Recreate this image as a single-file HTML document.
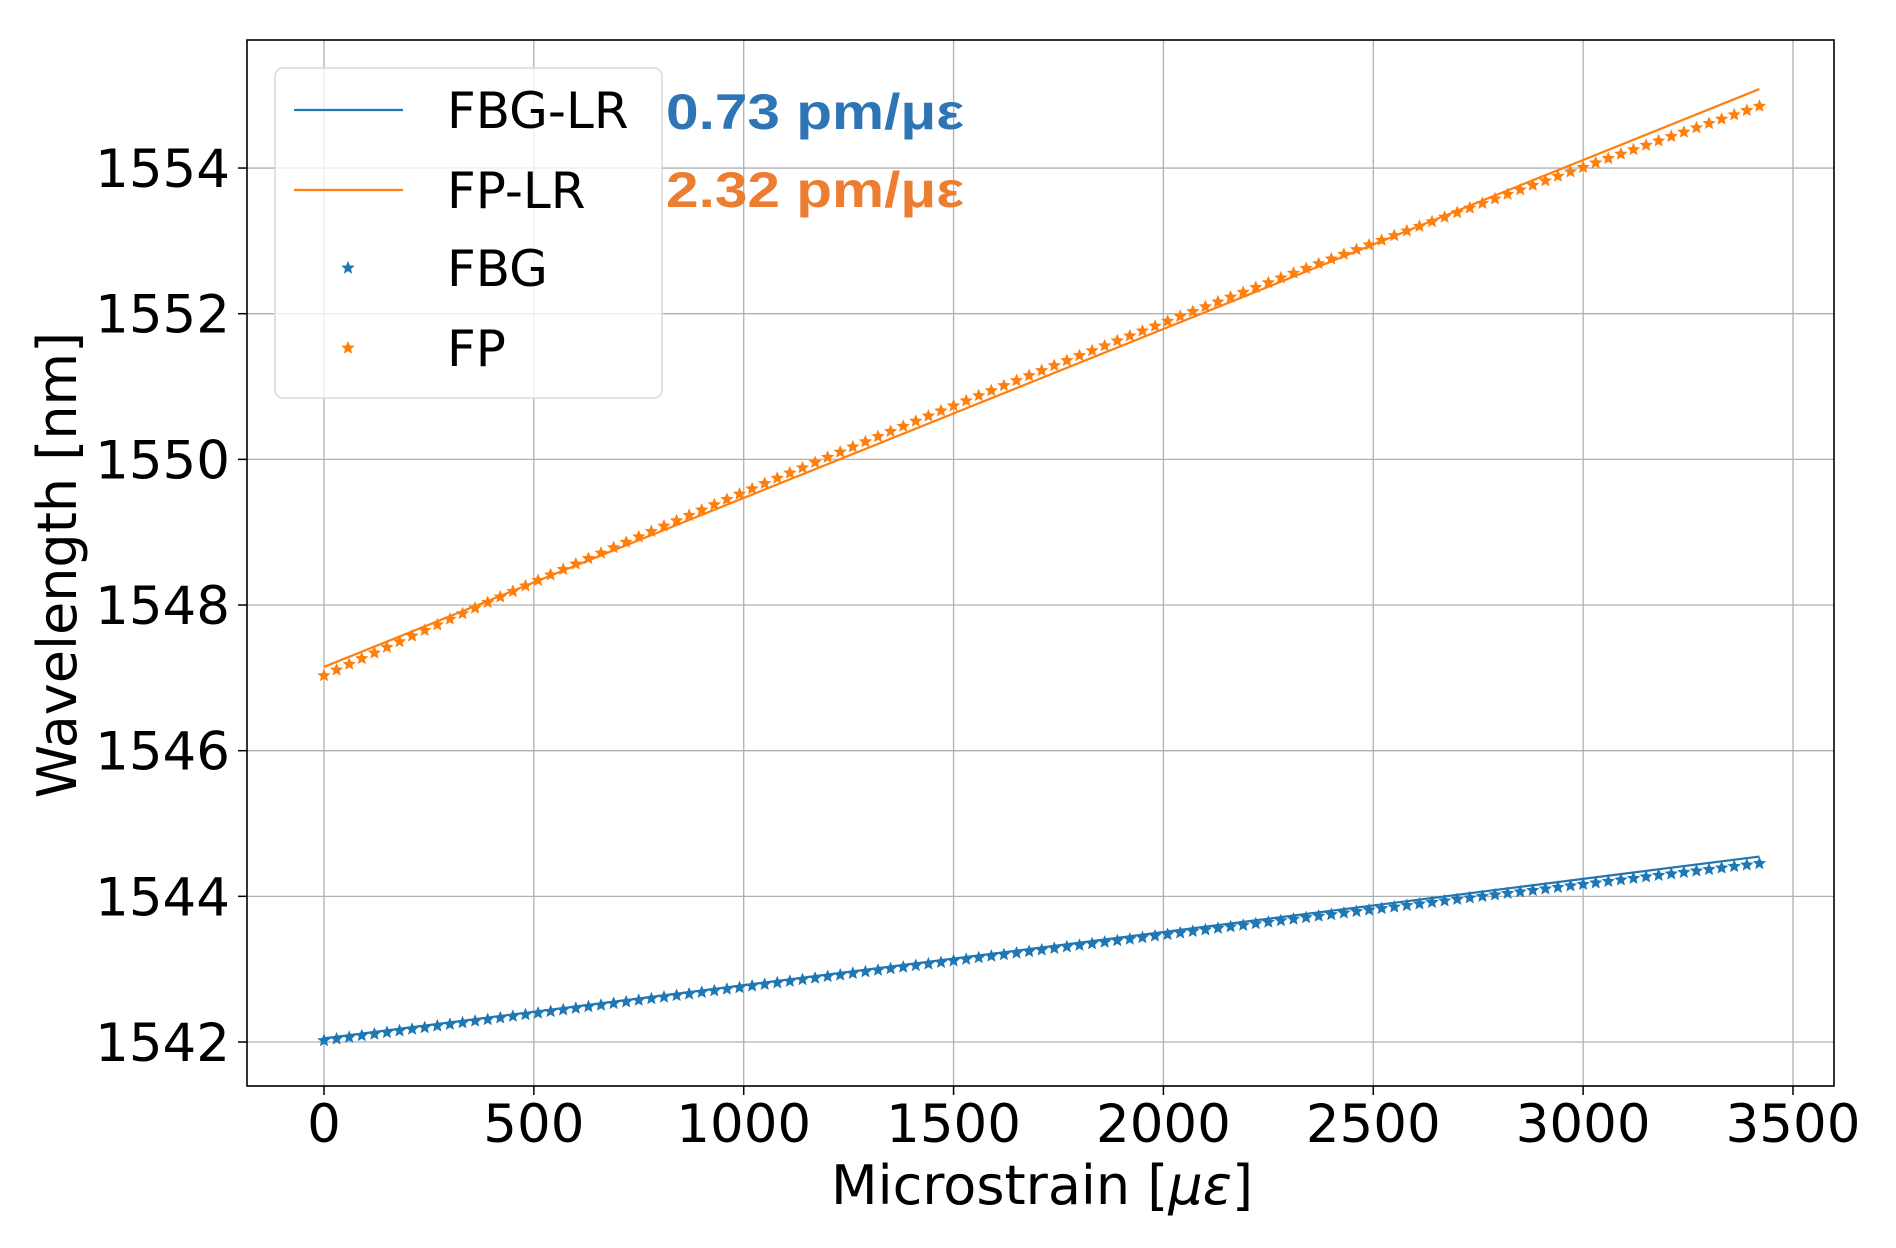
<!DOCTYPE html>
<html><head><meta charset="utf-8"><style>
html,body{margin:0;padding:0;background:#fff;}
svg{display:block;}
text{font-family:"DejaVu Sans","Liberation Sans",sans-serif;}
</style></head><body>
<svg id="s" width="1896" height="1248" xmlns="http://www.w3.org/2000/svg">
<rect x="0" y="0" width="1896" height="1248" fill="#fff"/>
<g id="grid" stroke="#b0b0b0" stroke-width="1.3"></g>
<g id="data"></g>
<rect x="247" y="40" width="1587" height="1046" fill="none" stroke="#000" stroke-width="1.6"/>
<g id="ticks" font-size="53" fill="#000"></g>
<text x="1042" y="1204" font-size="54" text-anchor="middle">Microstrain [<tspan font-style="italic">με</tspan>]</text>
<text transform="translate(76,565) rotate(-90)" font-size="54" text-anchor="middle">Wavelength [nm]</text>
<rect x="275" y="68" width="387" height="330" rx="8" fill="#fff" fill-opacity="0.8" stroke="#d8d8d8" stroke-width="1.5"/>
<line x1="294" y1="110" x2="403" y2="110" stroke="#1f77b4" stroke-width="2.2"/>
<line x1="294" y1="190" x2="403" y2="190" stroke="#ff7f0e" stroke-width="2.2"/>
<g id="leg"></g>
<g font-size="50" fill="#000">
<text x="447" y="128">FBG-LR</text>
<text x="447" y="208">FP-LR</text>
<text x="447" y="286">FBG</text>
<text x="447" y="366">FP</text>
</g>
<text x="666" y="129" font-size="50" font-weight="bold" fill="#2E75B6" style="font-family:'Liberation Sans Narrow','Liberation Sans',sans-serif" textLength="298" lengthAdjust="spacingAndGlyphs">0.73 pm/με</text>
<text x="666" y="207" font-size="50" font-weight="bold" fill="#ED7D31" style="font-family:'Liberation Sans Narrow','Liberation Sans',sans-serif" textLength="298" lengthAdjust="spacingAndGlyphs">2.32 pm/με</text>
</svg>
<script>
var NS="http://www.w3.org/2000/svg";
function X(v){return 324+v*0.41971;}
function Y(w){return 1042-(w-1542)*72.83;}
function el(p,t,a){var e=document.createElementNS(NS,t);for(var k in a)e.setAttribute(k,a[k]);p.appendChild(e);return e;}
var g=document.getElementById('grid'),tk=document.getElementById('ticks');
for(var v=0;v<=3500;v+=500){var x=X(v);el(g,'line',{x1:x,y1:40,x2:x,y2:1086});
 el(tk,'line',{x1:x,y1:1086,x2:x,y2:1095,stroke:'#000','stroke-width':1.5});
 var t=el(tk,'text',{x:x,y:1142,'text-anchor':'middle'});t.textContent=v;}
for(var w=1542;w<=1554;w+=2){var y=Y(w);el(g,'line',{x1:247,y1:y,x2:1834,y2:y});
 el(tk,'line',{x1:238,y1:y,x2:247,y2:y,stroke:'#000','stroke-width':1.5});
 var t=el(tk,'text',{x:230,y:y+19,'text-anchor':'end'});t.textContent=w;}
function star(p,cx,cy,r,c){var pts=[];for(var i=0;i<10;i++){var a=-Math.PI/2+i*Math.PI/5,rr=i%2?r*0.45:r;pts.push((cx+rr*Math.cos(a)).toFixed(1)+','+(cy+rr*Math.sin(a)).toFixed(1));}
 el(p,'polygon',{points:pts.join(' '),fill:c});}
var d=document.getElementById('data');
el(d,'line',{x1:X(0),y1:Y(1542.05),x2:X(3420),y2:Y(1542.05+0.00073*3420),stroke:'#1f77b4','stroke-width':2.2});
el(d,'line',{x1:X(0),y1:Y(1547.15),x2:X(3420),y2:Y(1547.15+0.00232*3420),stroke:'#ff7f0e','stroke-width':2.2});
for(var v=0;v<=3420;v+=30){
 var fbg=1542.02+0.000745*v-1.0e-8*v*v;
 var fp=1547.03+0.002614*v-9.58e-8*v*v;
 star(d,X(v),Y(fbg),7,'#1f77b4');
 star(d,X(v),Y(fp),7,'#ff7f0e');}
var l=document.getElementById('leg');
star(l,348,268,7,'#1f77b4');star(l,348,348,7,'#ff7f0e');
</script>
</body></html>
